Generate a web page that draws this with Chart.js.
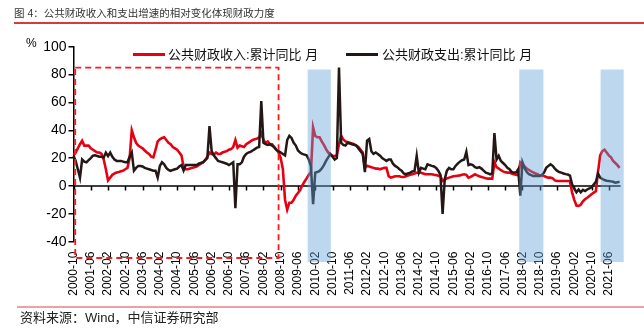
<!DOCTYPE html>
<html>
<head>
<meta charset="utf-8">
<script src="https://cdn.jsdelivr.net/npm/chart.js@4.4.1/dist/chart.umd.min.js"></script>
<style>
  html, body { margin: 0; padding: 0; background: #fff; }
  body { width: 644px; height: 329px; position: relative; overflow: hidden;
         font-family: "Liberation Sans", "Noto Sans CJK SC", sans-serif; color: #222; }
  #wrap { position: absolute; left: 0; top: 0; width: 644px; height: 329px; }
  .abs { position: absolute; white-space: nowrap; }
  #title { left: 14px; top: 6px; font-size: 10.5px; line-height: 14px; color: #333; }
  #titleRule { left: 14px; top: 22px; width: 630px; height: 1.5px; background: #d23c3c; }
  #footRule { left: 17px; top: 306px; width: 627px; height: 1.5px; background: #e9a3a3; }
  #source { left: 20px; top: 311px; font-size: 13px; line-height: 14px; color: #222; }
  #unit { left: 26px; top: 36px; font-size: 12px; line-height: 14px; color: #000; }
  .legLine { height: 3px; top: 52.5px; width: 32px; }
  .legText { top: 47px; font-size: 13px; line-height: 15px; color: #111; }
</style>
</head>
<body>
<div id="wrap"><canvas id="fiscalChart" width="644" height="329"></canvas></div>
<div class="abs" id="title">图 4：公共财政收入和支出增速的相对变化体现财政力度</div>
<div class="abs" id="titleRule"></div>
<div class="abs" id="unit">%</div>
<div class="abs legLine" style="left:133px;background:#e60012"></div>
<div class="abs legText" style="left:168px">公共财政收入:累计同比 月</div>
<div class="abs legLine" style="left:346px;background:#231815"></div>
<div class="abs legText" style="left:382px">公共财政支出:累计同比 月</div>
<div class="abs" id="footRule"></div>
<div class="abs" id="source">资料来源：Wind，中信证券研究部</div>
<script>
// monthly series, first month 2000-10
const startYear = 2000;
const startMonth = 10;
const monthCount = 254;
const labelEvery = 8;

// 公共财政收入:累计同比 (%)
const revenueYoY = [
  22, 24, 27, 30, 32.5, 29, 29, 29, 27, 26,
  25, 24, 24, 23, 19, 12, 4, 6, 8, 9,
  9.6, 10, 10.5, 11, 12, 13, 20, 40, 35, 31,
  29, 28, 27, 25.5, 24, 23, 21, 20.5, 26, 32,
  33.5, 34.5, 35, 33, 31, 30, 28, 27, 26, 24,
  22, 14, 12, 12, 12.5, 13, 13.5, 14, 15, 16,
  17, 18.5, 21, 24, 23, 22.5, 24, 23, 23, 24,
  24.5, 25, 26, 26.5, 28, 33, 27.5, 29, 28.5, 28,
  30, 31, 32, 33, 33.5, 34, 35, 38, 33, 31,
  32, 30, 30, 28, 26, 24, 20, 12, -10, -17,
  -12, -12, -10, -7, -5, -3, 0.5, 3, 5.5, 8,
  10, 42, 36, 35, 35, 32, 29.5, 26.5, 24, 22.5,
  21.7, 21.5, 22, 30, 36, 33.5, 32, 31.5, 31, 30.5,
  30, 29, 28, 26, 24, 13, 14.5, 14, 13.5, 13,
  12.5, 12.5, 12, 12.5, 13, 13, 7, 6, 6.5, 7,
  7, 7, 6.5, 6.5, 7, 7.5, 8, 8.5, 9, 9.5,
  9.6, 9.5, 9, 8.5, 8.4, 8.4, 8.4, 8, 7.8, 7.3,
  7, 3.6, 4.5, 5.5, 6, 6.5, 7, 7.2, 7.4, 7.6,
  8, 8.4, 8, 6, 6.5, 7.5, 8.4, 7.6, 7, 6.5,
  6, 5.5, 5.3, 5.3, 5.3, 17, 13.5, 12.5, 11.3, 10.5,
  9.8, 9.6, 9.6, 9, 8.5, 8, 7.7, 17, 15.5, 14,
  12.5, 11.5, 10.5, 9.8, 9, 8.4, 7.5, 7.2, 7.2, 6.5,
  6, 6, 5.5, 4, 3.6, 3.6, 3.6, 3.6, 3.6, 3.6,
  3.6, -4.8, -10, -14, -14.3, -13.5, -11, -9.5, -8.5, -7.2,
  -6, -4.8, -3.8, 10, 22, 25, 26, 24, 22, 20.5,
  18, 16.5, 15, 13
];

// 公共财政支出:累计同比 (%)
const expenditureYoY = [
  21.7, 18, 12, 6, 19, 17.5, 17, 18.5, 20, 21.7,
  22, 21.5, 21, 21, 20.5, 24, 21.5, 24, 21, 19,
  18, 18, 18, 17.5, 17, 17, 21, 24, 11, 13,
  14.4, 14.4, 14, 13, 12.5, 12, 11.5, 11, 11, 6,
  14.4, 17, 15.5, 13, 11.5, 10.8, 11.5, 12, 12.5, 14,
  15, 11, 15, 15, 15, 15, 15, 15, 16, 16.5,
  17, 18.5, 20, 43, 25, 22, 20, 18, 17.5, 17,
  16.5, 16, 15, 16, 17, -16, 15.6, 15.6, 17, 21,
  23, 24, 24.5, 25.5, 26.5, 27.5, 28, 61, 31, 30,
  29.5, 30, 29, 27.7, 26, 25, 24, 23, 22, 33,
  36, 34.5, 31, 29, 25.5, 24, 23, 22.5, 22, 19,
  14, -13, 9.6, 10, 10.8, 12.5, 15, 18, 20.5, 23,
  21, 19, 20, 85, 31, 29.5, 29, 31, 30.5, 30,
  29.5, 29, 27, 25, 23, 10, 32.5, 33.7, 25, 23,
  24, 23, 21.7, 20, 19, 18, 19, 19, 16, 14.4,
  13.5, 12, 11, 9, 8.4, 9, 9.6, 10.5, 10.8, 21.7,
  9.6, 13, 12.5, 12, 15.6, 15, 14.4, 14, 13, 11,
  8, -20, 5, 11, 13, 12, 12, 14.4, 16, 17.5,
  18.5, 19, 24.5, 15, 15.6, 15, 13.5, 13, 13.5, 12.5,
  11, 9.6, 9, 8.4, 9, 38, 19, 21.7, 18, 16.5,
  15, 13, 12, 10, 9.6, 9.6, 12, -7, 17, 13,
  10, 8.4, 7.8, 7.2, 7.2, 7.2, 7.2, 8, 9.6, 13,
  14.4, 15.6, 14.5, 12.5, 11, 10, 9.6, 9, 8.5, 8.2,
  7.5, 1.2, -2, -4.5, -2.5, -4.5, -2.8, -3.6, -2.5, -1.8,
  -1, 1, 3, 9, 6, 5, 4.3, 3.8, 3.6, 3.3,
  3, 2.4, 2.6, 3.1
];

// shaded periods, as [from, to] month positions
const shadedPeriods = [[108.5, 119.2], [206.5, 217.7], [244.2, 254.9]];
const shadeTop = 83.6;
const shadeBottom = -54.6;

// dashed frame around the early period
const framePeriod = [0.8, 95];
const frameTop = 85;
const frameBottom = -51.7;

const months = [];
for (let i = 0; i < monthCount; i++) {
  const total = startMonth - 1 + i;
  const yr = startYear + Math.floor(total / 12);
  const mo = (total % 12) + 1;
  months.push(yr + '-' + String(mo).padStart(2, '0'));
}

const overlays = {
  id: 'overlays',
  beforeDatasetsDraw(chart) {
    const { ctx, chartArea, scales: { x, y } } = chart;
    const y0 = y.getPixelForValue(0);
    ctx.save();
    ctx.strokeStyle = '#000';
    ctx.lineWidth = 1.5;
    ctx.beginPath();
    ctx.moveTo(chartArea.left, y0);
    ctx.lineTo(chartArea.right + 1, y0);
    for (let i = 0; i < monthCount; i += labelEvery) {
      const px = Math.round(x.getPixelForValue(i)) + 0.5;
      ctx.moveTo(px, y0);
      ctx.lineTo(px, y0 + 4.5);
    }
    ctx.stroke();
    ctx.restore();
  },
  afterDatasetsDraw(chart) {
    const { ctx, scales: { x, y } } = chart;
    ctx.save();
    // light blue bands laid over the lines
    ctx.fillStyle = 'rgba(96, 159, 214, 0.42)';
    shadedPeriods.forEach(([a, b]) => {
      const x1 = x.getPixelForValue(a), x2 = x.getPixelForValue(b);
      const y1 = y.getPixelForValue(shadeTop), y2 = y.getPixelForValue(shadeBottom);
      ctx.fillRect(x1, y1, x2 - x1, y2 - y1);
    });
    // red dashed frame
    ctx.strokeStyle = '#ff1a1a';
    ctx.lineWidth = 1.8;
    ctx.setLineDash([6, 4]);
    const fx1 = x.getPixelForValue(framePeriod[0]), fx2 = x.getPixelForValue(framePeriod[1]);
    const fy1 = y.getPixelForValue(frameTop), fy2 = y.getPixelForValue(frameBottom);
    ctx.strokeRect(fx1, fy1, fx2 - fx1, fy2 - fy1);
    ctx.restore();
  }
};

const tickFont = { family: '"Liberation Sans", Arial, sans-serif', size: 12 };

new Chart(document.getElementById('fiscalChart').getContext('2d'), {
  type: 'line',
  data: {
    labels: months,
    datasets: [
      {
        label: '公共财政收入:累计同比 月',
        data: revenueYoY,
        borderColor: '#e60012',
        borderWidth: 2.6,
        pointRadius: 0,
        tension: 0,
        order: 1
      },
      {
        label: '公共财政支出:累计同比 月',
        data: expenditureYoY,
        borderColor: '#231815',
        borderWidth: 2.5,
        pointRadius: 0,
        tension: 0,
        order: 0
      }
    ]
  },
  options: {
    responsive: false,
    animation: false,
    devicePixelRatio: 1,
    layout: { padding: { top: 46.7, right: 23, left: 0, bottom: 0 } },
    plugins: {
      legend: { display: false },
      tooltip: { enabled: false }
    },
    scales: {
      x: {
        offset: false,
        grid: { display: false, drawTicks: false },
        border: { display: false },
        ticks: {
          autoSkip: false,
          minRotation: 90,
          maxRotation: 90,
          padding: 10,
          color: '#000',
          font: tickFont,
          callback: (value, index) => index % labelEvery === 0 ? months[index] : ''
        },
        afterFit: (scale) => { scale.height = 87.3; }
      },
      y: {
        min: -40,
        max: 100,
        ticks: { stepSize: 20, padding: 2, color: '#000', font: { ...tickFont, size: 14 } },
        grid: { drawOnChartArea: false, drawTicks: true, tickLength: 5, color: '#000', lineWidth: 1.5 },
        border: { display: true, color: '#000', width: 1.5 },
        afterFit: (scale) => { scale.width = 73.5; }
      }
    }
  },
  plugins: [overlays]
});
</script>
</body>
</html>
